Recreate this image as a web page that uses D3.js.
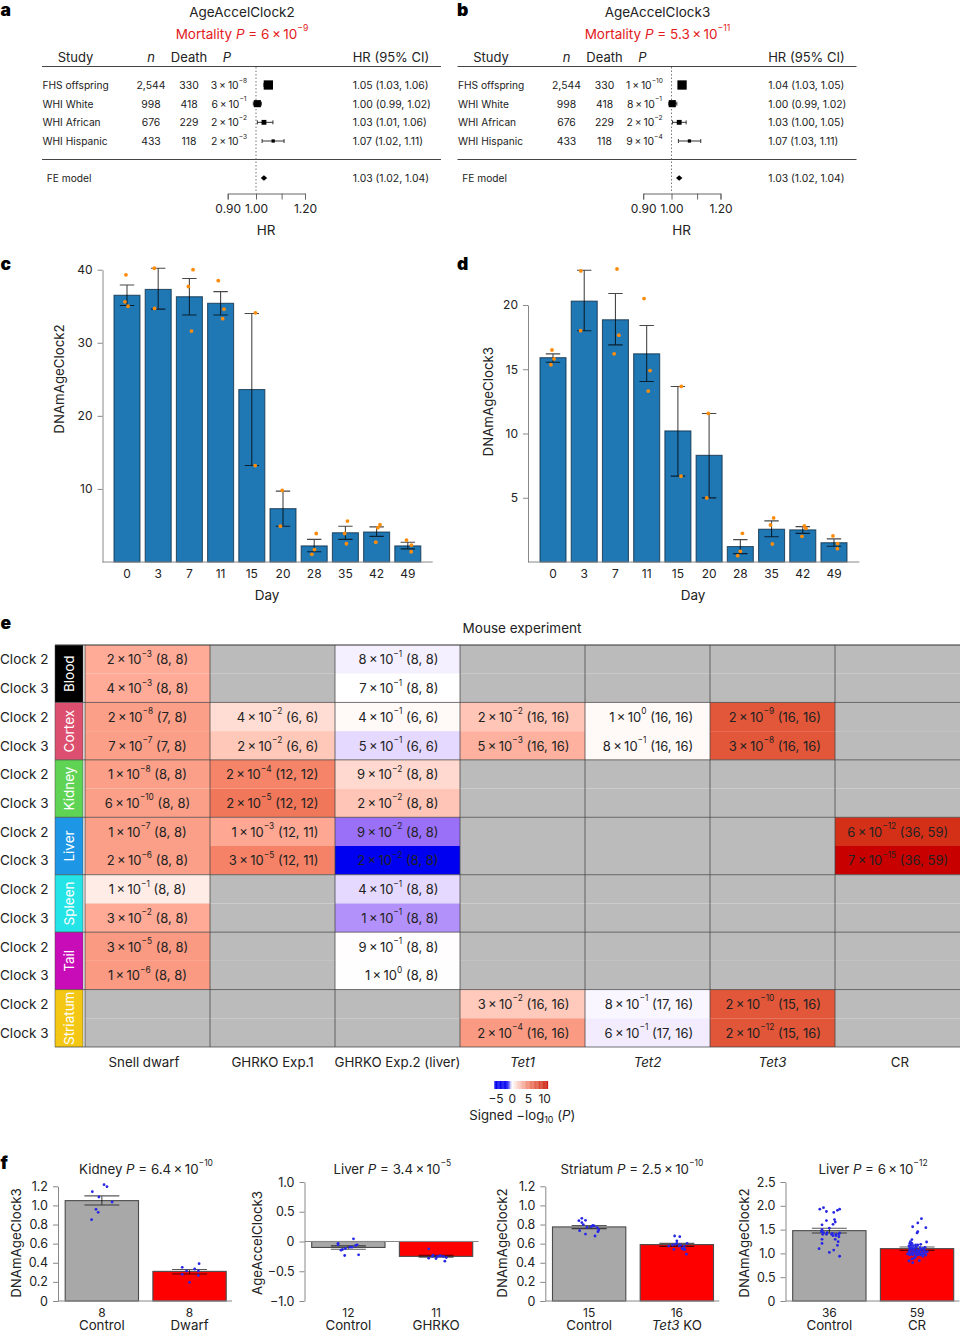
<!DOCTYPE html>
<html>
<head>
<meta charset="utf-8">
<script src="https://cdn.jsdelivr.net/npm/d3@7"></script>
<style>
body { margin: 0; background: #fff; }
svg { display: block; }
text { font-family: Inter, "Noto Sans", sans-serif; fill: #222; }
</style>
</head>
<body>
<script>
// panels a, b
var studyNames = ['FHS offspring', 'WHI White', 'WHI African', 'WHI Hispanic'];
var studyN = ['2,544', '998', '676', '433'];
var studyDeath = ['330', '418', '229', '118'];
var studyWeight = [48, 28, 13, 6];

var clock2P = ['3e-8', '6e-1', '2e-2', '2e-3'];
var clock2Hr = [1.047, 1.005, 1.03, 1.066];
var clock2Lo = [1.03, 0.99, 1.005, 1.023];
var clock2Hi = [1.06, 1.02, 1.065, 1.11];
var clock2Text = ['1.05 (1.03, 1.06)', '1.00 (0.99, 1.02)', '1.03 (1.01, 1.06)', '1.07 (1.02, 1.11)'];
var clock2Fe = 1.03;
var clock2FeText = '1.03 (1.02, 1.04)';

var clock3P = ['1e-10', '8e-1', '2e-2', '9e-4'];
var clock3Hr = [1.04, 1.003, 1.029, 1.069];
var clock3Lo = [1.03, 0.99, 1.004, 1.026];
var clock3Hi = [1.05, 1.02, 1.056, 1.115];
var clock3Text = ['1.04 (1.03, 1.05)', '1.00 (0.99, 1.02)', '1.03 (1.00, 1.05)', '1.07 (1.03, 1.11)'];
var clock3Fe = 1.029;
var clock3FeText = '1.03 (1.02, 1.04)';

var hrTicks = [0.9, 1.0, 1.1, 1.2];
var hrTickLabels = ['0.90', '1.00', '', '1.20'];

// panels c, d
var days = ['0', '3', '7', '11', '15', '20', '28', '35', '42', '49'];

var dayClock2Mean = [36.5, 37.3, 36.3, 35.4, 23.6, 7.3, 2.2, 4.0, 4.1, 2.2];
var dayClock2Hi = [37.9, 40.2, 38.8, 37.0, 34.0, 9.7, 3.1, 4.9, 4.8, 2.7];
var dayClock2Lo = [35.1, 34.6, 33.8, 33.8, 13.2, 4.9, 1.4, 3.1, 3.5, 1.8];
// [jitter as a share of bar width, value]
var dayClock2Points = [
	[[-.04, 39.3], [-.08, 35.6], [.04, 35.0]],
	[[-.15, 40.2], [-.14, 34.7]],
	[[.14, 40.0], [-.04, 37.7], [.08, 31.6]],
	[[-.09, 38.5], [.13, 34.6], [.08, 33.3]],
	[[.14, 34.1], [.13, 13.2]],
	[[-.03, 9.8], [-.10, 4.9]],
	[[.08, 3.9], [.01, 1.7], [-.09, 1.05]],
	[[.08, 5.6], [-.03, 3.9], [.04, 2.5]],
	[[.13, 5.1], [.05, 4.7], [-.03, 2.7]],
	[[-.05, 3.0], [.14, 2.3], [.13, 1.4]]
];

var dayClock3Mean = [15.9, 20.3, 18.85, 16.2, 10.2, 8.3, 1.2, 2.55, 2.5, 1.5];
var dayClock3Hi = [16.2, 22.7, 20.9, 18.4, 13.66, 11.56, 1.74, 3.2, 2.75, 1.8];
var dayClock3Lo = [15.55, 18.0, 16.9, 14.05, 6.68, 4.99, 0.65, 1.97, 2.23, 1.22];
var dayClock3Points = [
	[[-.04, 16.5], [.04, 15.8], [-.08, 15.35]],
	[[-.13, 22.65], [-.14, 18.0]],
	[[.06, 22.8], [.13, 17.65], [-.05, 16.2]],
	[[-.10, 20.5], [.13, 14.9], [.06, 13.3]],
	[[.13, 13.66], [.12, 6.68]],
	[[-.03, 11.56], [-.09, 4.99]],
	[[.08, 2.23], [0, .83], [-.10, .49]],
	[[.08, 3.43], [-.04, 2.88], [.03, 1.4]],
	[[.06, 2.8], [.12, 2.62], [-.03, 2.0]],
	[[-.04, 2.03], [.14, 1.43], [.13, 1.04]]
];

// panel e
var tissues = ['Blood', 'Cortex', 'Kidney', 'Liver', 'Spleen', 'Tail', 'Striatum'];
var tissueColors = ['#000000', '#dd4f6f', '#5fd454', '#1e96e6', '#24e4e8', '#c80cb8', '#f3c713'];
var clocks = ['Clock 2', 'Clock 3'];
var experiments = ['Snell dwarf', 'GHRKO Exp.1', 'GHRKO Exp.2 (liver)', '<i>Tet1</i>', '<i>Tet2</i>', '<i>Tet3</i>', 'CR'];

var cellLabels = [
	['2e-3 (8, 8)', null, '8e-1 (8, 8)', null, null, null, null],
	['4e-3 (8, 8)', null, '7e-1 (8, 8)', null, null, null, null],
	['2e-8 (7, 8)', '4e-2 (6, 6)', '4e-1 (6, 6)', '2e-2 (16, 16)', '1e0 (16, 16)', '2e-9 (16, 16)', null],
	['7e-7 (7, 8)', '2e-2 (6, 6)', '5e-1 (6, 6)', '5e-3 (16, 16)', '8e-1 (16, 16)', '3e-8 (16, 16)', null],
	['1e-8 (8, 8)', '2e-4 (12, 12)', '9e-2 (8, 8)', null, null, null, null],
	['6e-10 (8, 8)', '2e-5 (12, 12)', '2e-2 (8, 8)', null, null, null, null],
	['1e-7 (8, 8)', '1e-3 (12, 11)', '9e-2 (8, 8)', null, null, null, '6e-12 (36, 59)'],
	['2e-6 (8, 8)', '3e-5 (12, 11)', '2e-2 (8, 8)', null, null, null, '7e-15 (36, 59)'],
	['1e-1 (8, 8)', null, '4e-1 (8, 8)', null, null, null, null],
	['3e-2 (8, 8)', null, '1e-1 (8, 8)', null, null, null, null],
	['3e-5 (8, 8)', null, '9e-1 (8, 8)', null, null, null, null],
	['1e-6 (8, 8)', null, '1e0 (8, 8)', null, null, null, null],
	[null, null, null, '3e-2 (16, 16)', '8e-1 (17, 16)', '2e-10 (15, 16)', null],
	[null, null, null, '2e-4 (16, 16)', '6e-1 (17, 16)', '2e-12 (15, 16)', null]
];

// signed score read back from the cell shade
var cellScores = [
	[3, null, -.4, null, null, null, null],
	[3, null, 0, null, null, null, null],
	[4, .9, .15, 1.8, .15, 8, null],
	[4, 1.7, -1, 2.7, .15, 8, null],
	[4, 5.2, 1, null, null, null, null],
	[4, 6, 1.8, null, null, null, null],
	[4, 3.3, -3, null, null, null, 10],
	[4, 5.3, -5, null, null, null, 12],
	[.5, null, -1, null, null, null, null],
	[3.1, null, -2, null, null, null, null],
	[4.2, null, .05, null, null, null, null],
	[4.2, null, .03, null, null, null, null],
	[null, null, null, 1.6, -.25, 8, null],
	[null, null, null, 4.2, -.5, 8.1, null]
];

var legendTicks = [-5, 0, 5, 10];

// panel f
var kidneyGroups = ['Control', 'Dwarf'];
var kidneyN = ['8', '8'];
var kidneyMean = [1.05, 0.31];
var kidneyHi = [1.10, 0.33];
var kidneyLo = [1.005, 0.283];
var kidneyPoints = [
	[[-.13, 1.144], [.03, 1.217], [.07, 1.196], [-.04, 1.088], [.14, 1.036], [-.08, .959], [-.05, .928], [-.14, .851]],
	[[-.10, .352], [.13, .39], [-.04, .314], [.07, .335], [.12, .314], [-.10, .279], [.12, .268], [0, .195]]
];

var liverGhrkoGroups = ['Control', 'GHRKO'];
var liverGhrkoN = ['12', '11'];
var liverGhrkoMean = [-0.10, -0.25];
var liverGhrkoHi = [-0.073, -0.23];
var liverGhrkoLo = [-0.13, -0.263];
var liverGhrkoPoints = [
	[[.07, .045], [-.14, -.03], [-.14, -.056], [.12, -.056], [.05, -.095], [-.04, -.118], [-.08, -.134], [-.10, -.146], [-.05, -.235], [.14, -.224], [.02, -.095], [.10, -.067]],
	[[-.10, -.123], [-.05, -.25], [-.10, -.28], [0, -.286], [.12, -.33], [-.04, -.23], [.05, -.24], [.06, -.24], [.10, -.25], [.14, -.27], [.02, -.25]]
];

var striatumGroups = ['Control', '<i>Tet3</i> KO'];
var striatumN = ['15', '16'];
var striatumMean = [0.775, 0.59];
var striatumHi = [0.79, 0.603];
var striatumLo = [0.757, 0.572];
var striatumPoints = [
	[[-.10, .865], [-.14, .84], [-.05, .844], [-.10, .82], [-.08, .80], [.05, .79], [.07, .785], [-.03, .77], [.11, .767], [.13, .743], [-.13, .736], [-.05, .70], [.08, .68], [.03, .778], [.12, .725]],
	[[-.03, .68], [.04, .673], [0, .63], [.14, .603], [-.11, .575], [-.04, .54], [.09, .54], [.13, .49], [-.06, .586], [0, .603], [.05, .586], [.10, .57], [.07, .55], [.11, .54], [-.02, .593], [.03, .575]]
];

var liverCrGroups = ['Control', 'CR'];
var liverCrN = ['36', '59'];
var liverCrMean = [1.478, 1.10];
var liverCrHi = [1.527, 1.134];
var liverCrLo = [1.43, 1.064];
var liverCrPoints = [
	[[-.13, 1.93], [-.08, 1.96], [-.04, 1.88], [.06, 1.86], [.11, 1.905], [.14, 1.93], [.07, 1.71], [.08, 1.66], [-.04, 1.69], [.05, 1.61], [-.10, 1.60], [0, 1.53], [-.10, 1.50], [-.11, 1.457], [-.09, 1.40], [-.04, 1.40], [.03, 1.40], [.05, 1.373], [.09, 1.40], [.14, 1.43], [.13, 1.35], [-.10, 1.296], [-.10, 1.21], [.08, 1.296], [.12, 1.247], [.11, 1.17], [-.14, 1.10], [.06, 1.07], [0, 1.02], [.14, .94], [-.03, 1.436], [.09, 1.373], [.04, 1.42], [-.08, 1.436], [-.10, 1.47], [.13, 1.40]],
	[[.06, 1.73], [.01, 1.64], [-.06, 1.56], [.12, 1.54], [.01, 1.457], [0, 1.43], [.13, 1.24], [-.07, 1.29], [-.09, 1.247], [-.10, 1.21], [-.07, 1.21], [-.08, 1.176], [-.11, 1.156], [-.05, 1.163], [-.10, 1.12], [-.06, 1.106], [.01, 1.176], [.05, 1.19], [-.01, 1.14], [.11, 1.127], [.04, 1.12], [.08, 1.106], [-.03, 1.106], [-.09, 1.07], [-.05, 1.07], [0, 1.07], [.05, 1.085], [.10, 1.07], [.14, 1.036], [-.11, 1.036], [-.07, 1.02], [-.03, 1.036], [.02, 1.02], [.07, 1.036], [-.13, .99], [-.09, .99], [-.05, .995], [-.01, .98], [.04, .99], [.09, .995], [.12, .966], [.08, .94], [-.10, .967], [-.06, .967], [-.04, .896], [-.11, .84], [-.06, .805], [.03, .847], [-.07, .883], [-.01, 1.02], [.01, .967], [.05, .967], [.11, 1.02], [-.08, 1.12], [-.02, 1.176], [-.10, 1.08], [.03, 1.05], [-.02, .93], [.06, 1.0]]
];

var svg = d3.select('body').append('svg')
	.attr('width', 960)
	.attr('height', 1333)
	.attr('viewBox', '0 0 960 1333');

// text with <i>, ^{} and _{} markup
function rich(text, str, size) {
	var carry = 0;
	str = str.replace(/ × /g, '\u2009×\u2009');
	str.split(/(<i>.*?<\/i>|\^\{.*?\}|_\{.*?\})/).forEach(function(part) {
		if(!part) return;
		var t = text.append('tspan');
		var dy = carry;
		carry = 0;
		if(part.indexOf('<i>') == 0) {
			t.text(part.slice(3, -4)).attr('font-style', 'italic');
		} else if(part[0] == '^' && part[1] == '{') {
			t.text(part.slice(2, -1)).attr('font-size', size*.64);
			dy -= size*.42;
			carry = size*.42;
		} else if(part[0] == '_' && part[1] == '{') {
			t.text(part.slice(2, -1)).attr('font-size', size*.68);
			dy += size*.28;
			carry = -size*.28;
		} else {
			t.text(part);
		}
		if(dy) t.attr('dy', dy);
	});
}

function label(g, x, y, str, size, opts) {
	opts = opts || {};
	var t = g.append('text')
		.attr('font-size', size)
		.attr('dominant-baseline', 'central')
		.attr('text-anchor', opts.anchor || 'middle')
		.attr('transform', 'translate(' + x + ',' + y + ')' + (opts.rotate ? ' rotate(' + opts.rotate + ')' : ''));
	if(opts.fill) t.style('fill', opts.fill);
	if(opts.weight) t.attr('font-weight', opts.weight);
	rich(t, str, size);
	return t;
}

// "2e-3 (8, 8)" -> "2 × 10^{−3} (8, 8)"
function pText(str) {
	return str.replace(/^(\d)e(-?\d+)/, function(m, a, b) {
		return a + ' × 10^{' + b.replace('-', '−') + '}';
	});
}

function panelLetter(x, y, str) {
	svg.append('text')
		.attr('x', x).attr('y', y)
		.attr('font-size', 17.5)
		.attr('font-weight', 900)
		.style('fill', '#000')
		.text(str);
}

function forest(dx, title, mortality, pvals, hr, lo, hi, texts, fe, feText) {
	var g = svg.append('g').attr('transform', 'translate(' + dx + ',0)');
	var rowY = d3.scalePoint().domain(studyNames).range([85, 141]);
	var x = d3.scaleLog().domain([0.9, 1.2]).range([227.7, 305]);
	var side = d3.scaleSqrt().domain([0, 50]).range([0, 9.5]);

	label(g, 242, 12, title, 13.5);
	label(g, 242, 34, mortality, 13.5, { fill: '#e31a1c' });

	label(g, 75.5, 57, 'Study', 13);
	label(g, 151, 57, '<i>n</i>', 13);
	label(g, 189, 57, 'Death', 13);
	label(g, 227, 57, '<i>P</i>', 13);
	label(g, 352.7, 57, 'HR (95% CI)', 13, { anchor: 'start' });

	[66.5, 159.5].forEach(function(y) {
		g.append('line').attr('x1', 42).attr('x2', 441).attr('y1', y).attr('y2', y)
			.attr('stroke', '#444').attr('stroke-width', 1);
	});

	g.append('line').attr('x1', x(1)).attr('x2', x(1)).attr('y1', 67).attr('y2', 193)
		.attr('stroke', '#777').attr('stroke-dasharray', '1.5,2');

	studyNames.forEach(function(name, i) {
		var y = rowY(name);
		label(g, 42.5, y, name, 10.2, { anchor: 'start' });
		label(g, 151, y, studyN[i], 10.4);
		label(g, 189, y, studyDeath[i], 10.4);
		label(g, 229, y, pText(pvals[i]), 10.4);
		label(g, 352.7, y, texts[i], 10.4, { anchor: 'start' });

		g.append('line').attr('x1', x(lo[i])).attr('x2', x(hi[i])).attr('y1', y).attr('y2', y)
			.attr('stroke', '#333');
		[lo[i], hi[i]].forEach(function(v) {
			g.append('line').attr('x1', x(v)).attr('x2', x(v)).attr('y1', y - 2).attr('y2', y + 2)
				.attr('stroke', '#333');
		});
		var s = side(studyWeight[i]);
		g.append('rect').attr('x', x(hr[i]) - s/2).attr('y', y - s/2).attr('width', s).attr('height', s)
			.attr('fill', '#000');
	});

	label(g, 46.7, 178, 'FE model', 10.2, { anchor: 'start' });
	label(g, 352.7, 178, feText, 10.4, { anchor: 'start' });
	g.append('path')
		.attr('transform', 'translate(' + x(fe) + ',178)')
		.attr('d', 'M-3.2,0L0,-2.8L3.2,0L0,2.8Z')
		.attr('fill', '#000');

	var axis = g.append('g')
		.attr('transform', 'translate(0,193.5)')
		.call(d3.axisBottom(x).tickValues(hrTicks).tickSize(6).tickFormat(function(d, i) { return hrTickLabels[i]; }));
	axis.selectAll('path, line').attr('stroke', '#666');
	axis.selectAll('text').attr('font-size', 12).attr('dy', 0).attr('y', 19).style('fill', '#222');
	axis.attr('font-family', null);

	label(g, 266, 230, 'HR', 13.5);
}

function dayBars(opts) {
	var g = svg.append('g');
	var x = d3.scaleBand().domain(days).range(opts.xRange).paddingInner(.167).paddingOuter(.0835);
	var y = d3.scaleLinear().domain(opts.yDomain).range([562, opts.yTop]);
	var capW = 7.2;

	var axis = g.append('g')
		.attr('transform', 'translate(' + opts.axisX + ',0)')
		.call(d3.axisLeft(y).tickValues(opts.ticks).tickSize(5).tickSizeOuter(0).tickPadding(5));
	axis.attr('font-family', null);
	axis.selectAll('path, line').attr('stroke', '#888');
	axis.selectAll('text').attr('font-size', 12).style('fill', '#222');

	g.selectAll('.day-bar').data(days).enter().append('rect')
		.attr('class', 'day-bar')
		.attr('x', function(d) { return x(d); })
		.attr('width', x.bandwidth())
		.attr('y', function(d, i) { return y(opts.mean[i]); })
		.attr('height', function(d, i) { return y(0) - y(opts.mean[i]); })
		.attr('fill', '#1f77b4')
		.attr('stroke', '#0e2c44')
		.attr('stroke-opacity', .75)
		.attr('stroke-width', 1.1);

	g.append('line').attr('x1', opts.axisX).attr('x2', opts.baseEnd).attr('y1', 562).attr('y2', 562)
		.attr('stroke', '#888');

	days.forEach(function(d, i) {
		var c = x(d) + x.bandwidth()/2;
		var path = 'M' + (c - capW) + ',' + y(opts.hi[i]) + 'H' + (c + capW) +
			'M' + c + ',' + y(opts.hi[i]) + 'V' + y(opts.lo[i]) +
			'M' + (c - capW) + ',' + y(opts.lo[i]) + 'H' + (c + capW);
		g.append('path').attr('d', path).attr('fill', 'none').attr('stroke', '#000')
			.attr('stroke-opacity', .72).attr('stroke-width', 1.1);
		g.selectAll(null).data(opts.points[i]).enter().append('circle')
			.attr('cx', function(p) { return c + p[0]*x.bandwidth(); })
			.attr('cy', function(p) { return y(p[1]); })
			.attr('r', 1.9)
			.attr('fill', '#ff8c0a');
		label(g, c, 573, d, 12);
	});

	label(g, opts.dayX, 594.5, 'Day', 13.5);
	label(g, opts.labelX, opts.labelY, opts.ylabel, 13.3, { rotate: -90 });
}

function heatmap() {
	var g = svg.append('g');
	var x = d3.scaleBand().domain(experiments).range([85, 960]);
	var rows = d3.range(cellLabels.length);
	var y = d3.scaleBand().domain(rows).range([645, 1047]);
	var groupH = y.bandwidth()*2;
	// cell text is set flush right in every column but the first
	var textInset = [null, 16.4, 21.4, 15.4, 16.7, 14, 11.7];
	var nameShift = [-3.5, 0, 0, 0, 0, 0, 2.5];

	var color = d3.scaleLinear()
		.domain([-5, -3, -2, -1, 0, 1, 2, 3, 4, 5, 6, 8, 10, 12])
		.range(['#0000f0', '#9a70f8', '#b391fb', '#e6d9ff', '#ffffff', '#ffd9cf', '#ffc0b0', '#ffab97',
			'#fb9f88', '#f6876c', '#f1775a', '#e2573a', '#d43018', '#c80000']);

	label(g, 522, 628, 'Mouse experiment', 13.5);

	rows.forEach(function(r) {
		label(g, 0, y(r) + y.bandwidth()/2, clocks[r % 2], 13.5, { anchor: 'start' });
		experiments.forEach(function(e, c) {
			var score = cellScores[r][c];
			g.append('rect')
				.attr('x', x(e)).attr('y', y(r))
				.attr('width', x.bandwidth()).attr('height', y.bandwidth())
				.attr('fill', score === null ? '#bbbbbb' : color(score));
		});
	});

	// thin rules go over the fills, text goes over the rules
	tissues.forEach(function(t, i) {
		var top = y(i*2);
		g.append('rect').attr('x', 55).attr('y', top).attr('width', 28).attr('height', groupH)
			.attr('fill', tissueColors[i]);
		label(g, 68.5, top + groupH/2, t, 13.5, { rotate: -90, fill: '#fff' });
	});

	d3.range(tissues.length + 1).forEach(function(i) {
		var yy = i == tissues.length ? 1047 : y(i*2);
		g.append('line').attr('x1', 55).attr('x2', 960).attr('y1', yy).attr('y2', yy)
			.attr('stroke', '#444').attr('stroke-opacity', .75).attr('stroke-width', i == 0 ? 1.4 : 1);
	});
	experiments.forEach(function(e) {
		g.append('line').attr('x1', x(e)).attr('x2', x(e)).attr('y1', 645).attr('y2', 1047)
			.attr('stroke', '#444').attr('stroke-opacity', .75);
	});
	g.append('line').attr('x1', 55).attr('x2', 55).attr('y1', 645).attr('y2', 1047).attr('stroke', '#444').attr('stroke-opacity', .5);
	g.append('line').attr('x1', 83).attr('x2', 83).attr('y1', 645).attr('y2', 1047).attr('stroke', '#444').attr('stroke-opacity', .5);

	rows.forEach(function(r) {
		experiments.forEach(function(e, c) {
			if(cellLabels[r][c] === null) return;
			var cy = y(r) + y.bandwidth()/2;
			if(c == 0) {
				label(g, x(e) + x.bandwidth()/2, cy, pText(cellLabels[r][c]), 13);
			} else {
				label(g, x(e) + x.bandwidth() - textInset[c], cy, pText(cellLabels[r][c]), 13, { anchor: 'end' });
			}
		});
	});

	experiments.forEach(function(e, c) {
		label(g, x(e) + x.bandwidth()/2 + nameShift[c], 1062, e, 13.3);
	});

	// legend
	var lx = d3.scaleLinear().domain([-5, 10]).range([496, 544.7]);
	var ramp = d3.scaleLinear()
		.domain([-5.5, -1.6, -.6, 0, 1, 5, 10, 10.9])
		.range(['#0000f0', '#0000f0', '#d0c8ff', '#ffffff', '#fde0d8', '#f0836a', '#d02a15', '#c80000']);
	var steps = d3.range(-5.5, 10.9, .25);
	g.selectAll('.legend-step').data(steps).enter().append('rect')
		.attr('class', 'legend-step')
		.attr('x', function(d) { return lx(d); })
		.attr('y', 1081)
		.attr('width', lx(.3) - lx(0))
		.attr('height', 8)
		.attr('fill', function(d) { return ramp(d); });
	legendTicks.forEach(function(t) {
		label(g, lx(t), 1098, String(t).replace('-', '−'), 12);
	});
	label(g, 522.3, 1115, 'Signed −log_{10} (<i>P</i>)', 13.2);
}

function groupBars(opts) {
	var g = svg.append('g');
	var x = d3.scaleBand().domain(opts.groups).range([opts.axisX, opts.axisX + 175.4]).paddingInner(.164).paddingOuter(.082);
	var y = d3.scaleLinear().domain(opts.yDomain).range([1301, opts.yTop]);
	var fills = ['#a8a8a8', '#ff0000'];
	var capW = 17.5;

	var axis = g.append('g')
		.attr('transform', 'translate(' + opts.axisX + ',0)')
		.call(d3.axisLeft(y).tickValues(opts.ticks).tickSize(5).tickSizeOuter(0).tickPadding(5)
			.tickFormat(function(d) { return d == 0 ? '0' : d3.format('.1f')(d); }));
	axis.attr('font-family', null);
	axis.selectAll('path, line').attr('stroke', '#888');
	axis.selectAll('text').attr('font-size', 12.5).style('fill', '#222');

	opts.groups.forEach(function(d, i) {
		var m = opts.mean[i];
		var c = x(d) + x.bandwidth()/2;
		g.append('rect')
			.attr('x', x(d))
			.attr('width', x.bandwidth())
			.attr('y', Math.min(y(m), y(0)))
			.attr('height', Math.abs(y(m) - y(0)))
			.attr('fill', fills[i])
			.attr('stroke', '#4a4a4a')
			.attr('stroke-width', 1.1);
		var path = 'M' + (c - capW) + ',' + y(opts.hi[i]) + 'H' + (c + capW) +
			'M' + c + ',' + y(opts.hi[i]) + 'V' + y(opts.lo[i]) +
			'M' + (c - capW) + ',' + y(opts.lo[i]) + 'H' + (c + capW);
		g.append('path').attr('d', path).attr('fill', 'none').attr('stroke', '#000')
			.attr('stroke-opacity', .65).attr('stroke-width', 1.1);
		label(g, c, 1311.5, opts.n[i], 12);
		label(g, c, 1325.2, d, 13.3);
	});

	g.append('line').attr('x1', opts.axisX).attr('x2', opts.axisX + 174).attr('y1', y(0)).attr('y2', y(0))
		.attr('stroke', '#888');

	opts.groups.forEach(function(d, i) {
		var c = x(d) + x.bandwidth()/2;
		g.selectAll(null).data(opts.points[i]).enter().append('circle')
			.attr('cx', function(p) { return c + p[0]*x.bandwidth(); })
			.attr('cy', function(p) { return y(p[1]); })
			.attr('r', 1.4)
			.attr('fill', '#2626e6');
	});

	label(g, opts.titleX, 1169, opts.title, 13.3);
	label(g, opts.labelX, 1243, opts.ylabel, 13.3, { rotate: -90 });
}

panelLetter(0.5, 16, 'a');
panelLetter(457, 16, 'b');
panelLetter(0.5, 270, 'c');
panelLetter(457, 270, 'd');
panelLetter(0.5, 629, 'e');
panelLetter(0.5, 1169, 'f');

forest(0, 'AgeAccelClock2', 'Mortality <i>P</i> = 6 × 10^{−9}', clock2P, clock2Hr, clock2Lo, clock2Hi, clock2Text, clock2Fe, clock2FeText);
forest(415.5, 'AgeAccelClock3', 'Mortality <i>P</i> = 5.3 × 10^{−11}', clock3P, clock3Hr, clock3Lo, clock3Hi, clock3Text, clock3Fe, clock3FeText);

dayBars({
	xRange: [111.4, 423.4], yDomain: [0, 40], yTop: 269.7, axisX: 102.5, baseEnd: 432.7, ticks: [10, 20, 30, 40],
	mean: dayClock2Mean, hi: dayClock2Hi, lo: dayClock2Lo, points: dayClock2Points,
	dayX: 267, labelX: 59, labelY: 379, ylabel: 'DNAmAgeClock2'
});
dayBars({
	xRange: [537.4, 849.6], yDomain: [0, 20], yTop: 305, axisX: 528, baseEnd: 859.3, ticks: [5, 10, 15, 20],
	mean: dayClock3Mean, hi: dayClock3Hi, lo: dayClock3Lo, points: dayClock3Points,
	dayX: 693, labelX: 488, labelY: 401.7, ylabel: 'DNAmAgeClock3'
});

heatmap();

groupBars({
	groups: kidneyGroups, n: kidneyN, mean: kidneyMean, hi: kidneyHi, lo: kidneyLo, points: kidneyPoints,
	axisX: 58, yDomain: [0, 1.2], yTop: 1186.3, ticks: [0, .2, .4, .6, .8, 1, 1.2],
	titleX: 146, title: 'Kidney <i>P</i> = 6.4 × 10^{−10}', labelX: 16, ylabel: 'DNAmAgeClock3'
});
groupBars({
	groups: liverGhrkoGroups, n: liverGhrkoN, mean: liverGhrkoMean, hi: liverGhrkoHi, lo: liverGhrkoLo, points: liverGhrkoPoints,
	axisX: 304.5, yDomain: [-1, 1], yTop: 1182, ticks: [-1, -.5, 0, .5, 1],
	titleX: 392.3, title: 'Liver <i>P</i> = 3.4 × 10^{−5}', labelX: 256.5, ylabel: 'AgeAccelClock3'
});
groupBars({
	groups: striatumGroups, n: striatumN, mean: striatumMean, hi: striatumHi, lo: striatumLo, points: striatumPoints,
	axisX: 545.3, yDomain: [0, 1.2], yTop: 1186.3, ticks: [0, .2, .4, .6, .8, 1, 1.2],
	titleX: 632, title: 'Striatum <i>P</i> = 2.5 × 10^{−10}', labelX: 501.7, ylabel: 'DNAmAgeClock2'
});
groupBars({
	groups: liverCrGroups, n: liverCrN, mean: liverCrMean, hi: liverCrHi, lo: liverCrLo, points: liverCrPoints,
	axisX: 785.5, yDomain: [0, 2.5], yTop: 1182, ticks: [0, .5, 1, 1.5, 2, 2.5],
	titleX: 873, title: 'Liver <i>P</i> = 6 × 10^{−12}', labelX: 744, ylabel: 'DNAmAgeClock2'
});
</script>
</body>
</html>
